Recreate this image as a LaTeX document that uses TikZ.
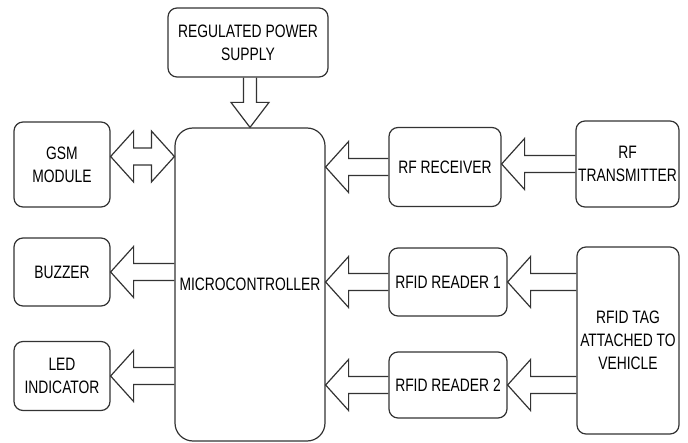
\documentclass[tikz,border=0pt]{standalone}
\usepackage{fontspec}
\setmainfont{Liberation Sans}[FakeStretch=0.77]
\usetikzlibrary{calc}

\begin{document}
\begin{tikzpicture}[x=1pt,y=-1pt,
  font=\fontsize{18pt}{23pt}\selectfont,
  box/.style={draw=black!80, line width=1.2pt, rounded corners=9pt, align=center, inner sep=0pt},
  fat shaft/.store in=\fashaft, fat head/.store in=\fahead, fat len/.store in=\falen,
  fat shaft=8.5pt, fat head=25.5pt, fat len=23pt,
  fat/.style={draw=black!80, line width=1.2pt, to path={
    ($(\tikztotarget)!\falen!(\tikztostart)$) coordinate (fa-b)
    ($(\tikztostart)!\fashaft!90:(\tikztotarget)$)
    -- ($(fa-b)!\fashaft!90:(\tikztotarget)$) -- ($(fa-b)!\fahead!90:(\tikztotarget)$)
    -- (\tikztotarget)
    -- ($(fa-b)!\fahead!-90:(\tikztotarget)$) -- ($(fa-b)!\fashaft!-90:(\tikztotarget)$)
    -- ($(\tikztostart)!\fashaft!-90:(\tikztotarget)$)}},
  fatboth/.style={draw=black!80, line width=1.2pt, to path={
    ($(\tikztostart)!\falen!(\tikztotarget)$) coordinate (fa-a)
    ($(\tikztotarget)!\falen!(\tikztostart)$) coordinate (fa-b)
    (\tikztostart)
    -- ($(fa-a)!\fahead!90:(\tikztotarget)$) -- ($(fa-a)!\fashaft!90:(\tikztotarget)$)
    -- ($(fa-b)!\fashaft!90:(\tikztotarget)$) -- ($(fa-b)!\fahead!90:(\tikztotarget)$)
    -- (\tikztotarget)
    -- ($(fa-b)!\fahead!-90:(\tikztotarget)$) -- ($(fa-b)!\fashaft!-90:(\tikztotarget)$)
    -- ($(fa-a)!\fashaft!-90:(\tikztotarget)$) -- ($(fa-a)!\fahead!-90:(\tikztotarget)$)
    -- cycle}}]
\useasboundingbox (0,0) rectangle (688,443);

% blocks
\node[box, minimum width=160pt, minimum height=69pt] (power) at (248,42.5) {REGULATED POWER\\SUPPLY};
\node[box, rounded corners=18pt, minimum width=150pt, minimum height=313pt] (mcu) at (250,284.5) {MICROCONTROLLER};
\node[box, minimum width=96pt, minimum height=85pt] (gsm) at (62,164.5) {GSM\\MODULE};
\node[box, minimum width=96pt, minimum height=68pt] (buzzer) at (62,272) {BUZZER};
\node[box, minimum width=96pt, minimum height=69pt] (led) at (62,376) {LED\\INDICATOR};
\node[box, minimum width=112pt, minimum height=79pt] (rfrx) at (445,167) {RF RECEIVER};
\node[box, minimum width=103pt, minimum height=86pt] (rftx) at (627.5,164) {RF\\TRANSMITTER};
\node[box, minimum width=118pt, minimum height=68pt] (rd1) at (448,282) {RFID READER 1};
\node[box, minimum width=118pt, minimum height=66pt] (rd2) at (448,385) {RFID READER 2};
\node[box, minimum width=102pt, minimum height=187pt] (tag) at (628,340.5) {RFID TAG\\ATTACHED TO\\VEHICLE};

% arrow ends
\coordinate (pwr-out) at (mcu.north |- power.south);
\coordinate (gsm-io) at ([yshift=8pt]gsm.east);
\coordinate (mcu-gsm) at (gsm-io -| mcu.west);
\coordinate (mcu-bz) at (buzzer.east -| mcu.west);
\coordinate (mcu-led) at (led.east -| mcu.west);
\coordinate (mcu-rx) at (rfrx.west -| mcu.east);
\coordinate (mcu-rd1) at (rd1.west -| mcu.east);
\coordinate (mcu-rd2) at (rd2.west -| mcu.east);
\coordinate (rx-in) at (rftx.west -| rfrx.east);
\coordinate (tag-rd1) at (rd1.east -| tag.west);
\coordinate (tag-rd2) at (rd2.east -| tag.west);

% arrows
\draw[fat, fat shaft=6.5pt, fat head=19pt, fat len=25pt] (pwr-out) to (mcu.north);
\draw[fatboth] (gsm-io) to (mcu-gsm);
\draw[fat] (mcu-bz) to (buzzer.east);
\draw[fat] (mcu-led) to (led.east);
\draw[fat] (rfrx.west) to (mcu-rx);
\draw[fat] (rd1.west) to (mcu-rd1);
\draw[fat] (rd2.west) to (mcu-rd2);
\draw[fat] (rftx.west) to (rx-in);
\draw[fat] (tag-rd1) to (rd1.east);
\draw[fat] (tag-rd2) to (rd2.east);
\end{tikzpicture}
\end{document}
